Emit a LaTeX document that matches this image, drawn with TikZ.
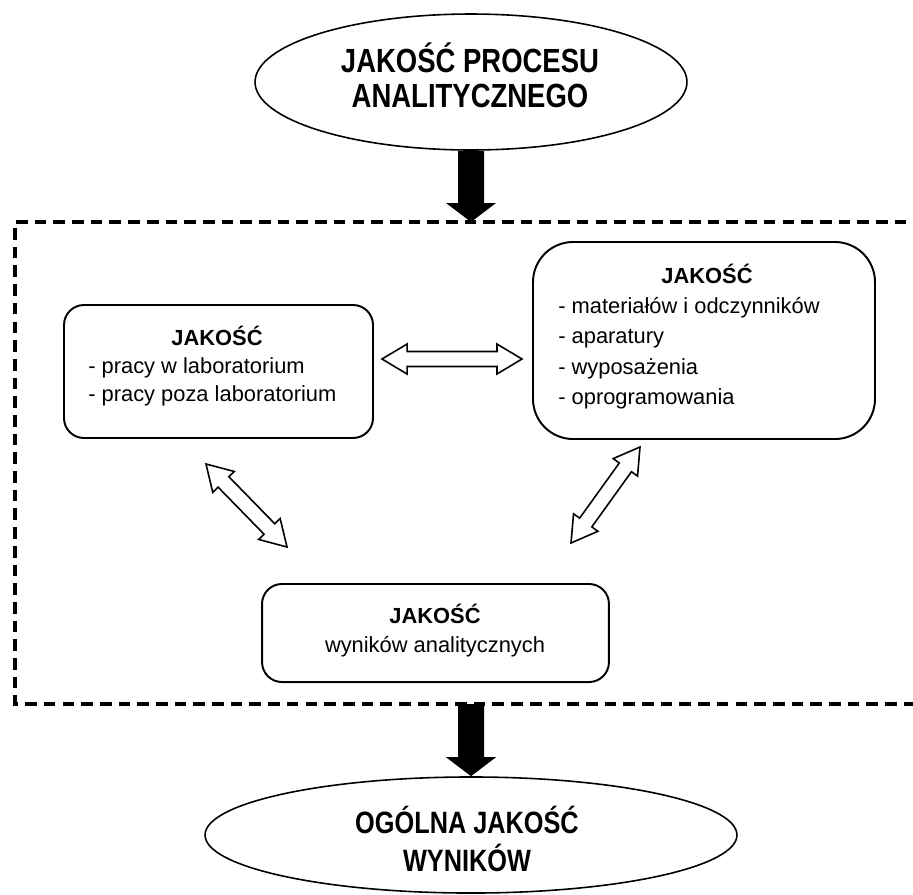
\documentclass[tikz,border=0pt]{standalone}
\usepackage{fontspec}
\setmainfont{Liberation Sans}
\newfontfamily\narrowfont[FakeStretch=0.82]{Liberation Sans}
\usetikzlibrary{calc,shapes.geometric}

\tikzset{
  oval/.style={ellipse, draw, line width=0.9pt, inner sep=0pt},
  ovaltext/.style={inner sep=0pt, anchor=base},
  qbox/.style={draw, line width=1.1pt, inner sep=0pt},
  head/.style={inner sep=0pt, anchor=base, font=\bfseries\fontsize{12.4}{15}\selectfont},
  body/.style={inner sep=0pt, anchor=base west},
  frame/.style={line width=1.8pt, dash pattern=on 6.6pt off 4pt},
  hollow/.style={draw, line width=0.9pt, fill=white, line join=miter},
  solidarrow/.style={fill=black},
}

% hollow double arrow between two named points
\newcommand\hollowdbl[2]{%
  \path[hollow] let \p1=(#1), \p2=(#2),
    \n1={atan2(\y2-\y1,\x2-\x1)},
    \n2={veclen(\x2-\x1,\y2-\y1)},
    \n3={\n2-14.2pt} in
    (\p1)
    -- ($(\p1)+(\n1:14.2pt)+(\n1+90:8.5pt)$)
    -- ($(\p1)+(\n1:14.2pt)+(\n1+90:4.25pt)$)
    -- ($(\p1)+(\n1:\n3)+(\n1+90:4.25pt)$)
    -- ($(\p1)+(\n1:\n3)+(\n1+90:8.5pt)$)
    -- (\p2)
    -- ($(\p1)+(\n1:\n3)+(\n1-90:8.5pt)$)
    -- ($(\p1)+(\n1:\n3)+(\n1-90:4.25pt)$)
    -- ($(\p1)+(\n1:14.2pt)+(\n1-90:4.25pt)$)
    -- ($(\p1)+(\n1:14.2pt)+(\n1-90:8.5pt)$)
    -- cycle;}

% solid downward block arrow from #1 to #2
\newcommand\blockdown[2]{%
  \fill[solidarrow] ($(#1)+(-13,0)$) -- ($(#2)+(-13,-19)$) -- ($(#2)+(-25,-19)$)
    -- (#2) -- ($(#2)+(25,-19)$) -- ($(#2)+(13,-19)$) -- ($(#1)+(13,0)$) -- cycle;}

\begin{document}
\begin{tikzpicture}[x=0.567pt, y=-0.567pt]
\useasboundingbox (0,0) rectangle (913,894);

% ovals
\node[oval, minimum width=244.9pt, minimum height=77.1pt] (top) at (471,82) {};
\node[ovaltext, font=\narrowfont\bfseries\fontsize{19}{20.4}\selectfont] (toptxt) at (470,72)
  {\begin{tabular}[t]{@{}c@{}}JAKOŚĆ PROCESU\\ANALITYCZNEGO\end{tabular}};
\node[oval, minimum width=301.6pt, minimum height=65.8pt] (bot) at (471,835) {};
\node[ovaltext, font=\narrowfont\bfseries\fontsize{17.5}{21.5}\selectfont] (bottxt) at (467,833)
  {\begin{tabular}[t]{@{}c@{}}OGÓLNA JAKOŚĆ\\WYNIKÓW\end{tabular}};

% dashed frame
\coordinate (ftop) at (471,222);
\coordinate (fbot) at (471,704);
\draw[frame] (925,222) -- (15,222) -- (15,704) -- (925,704);

% boxes
\node[qbox, rounded corners=11.3pt, minimum width=175.2pt, minimum height=75.4pt] (work) at (218.5,371.5) {};
\node[head] (workhd) at (217,345) {JAKOŚĆ};
\node[body, font=\fontsize{12.4}{16.2}\selectfont] (worklst) at (88,373)
  {\begin{tabular}[t]{@{}l@{}}- pracy w laboratorium\\ - pracy poza laboratorium\end{tabular}};

\node[qbox, rounded corners=22.7pt, minimum width=193.9pt, minimum height=111.7pt] (mat) at (704,340.5) {};
\node[head] (mathd) at (707,283) {JAKOŚĆ};
\node[body, font=\fontsize{12.4}{17.3}\selectfont] (matlst) at (558,313)
  {\begin{tabular}[t]{@{}l@{}}- materiałów i odczynników\\ - aparatury\\ - wyposażenia\\ - oprogramowania\end{tabular}};

\node[qbox, rounded corners=11.3pt, minimum width=196.7pt, minimum height=55.6pt] (res) at (435.5,633) {};
\node[head] (reshd) at (435,623) {JAKOŚĆ};
\node[inner sep=0pt, anchor=base, font=\fontsize{12.4}{15}\selectfont] (reslst) at (435,652) {wyników analitycznych};

% solid arrows
\blockdown{top.south}{ftop}
\blockdown{fbot}{bot.north}

% hollow double arrows
\coordinate (h1) at (382,359);
\coordinate (h2) at (522,359);
\coordinate (d1) at (206,464);
\coordinate (d2) at (287,547);
\coordinate (e1) at (640,447);
\coordinate (e2) at (571,543);
\hollowdbl{h1}{h2}
\hollowdbl{d1}{d2}
\hollowdbl{e1}{e2}
\end{tikzpicture}
\end{document}
